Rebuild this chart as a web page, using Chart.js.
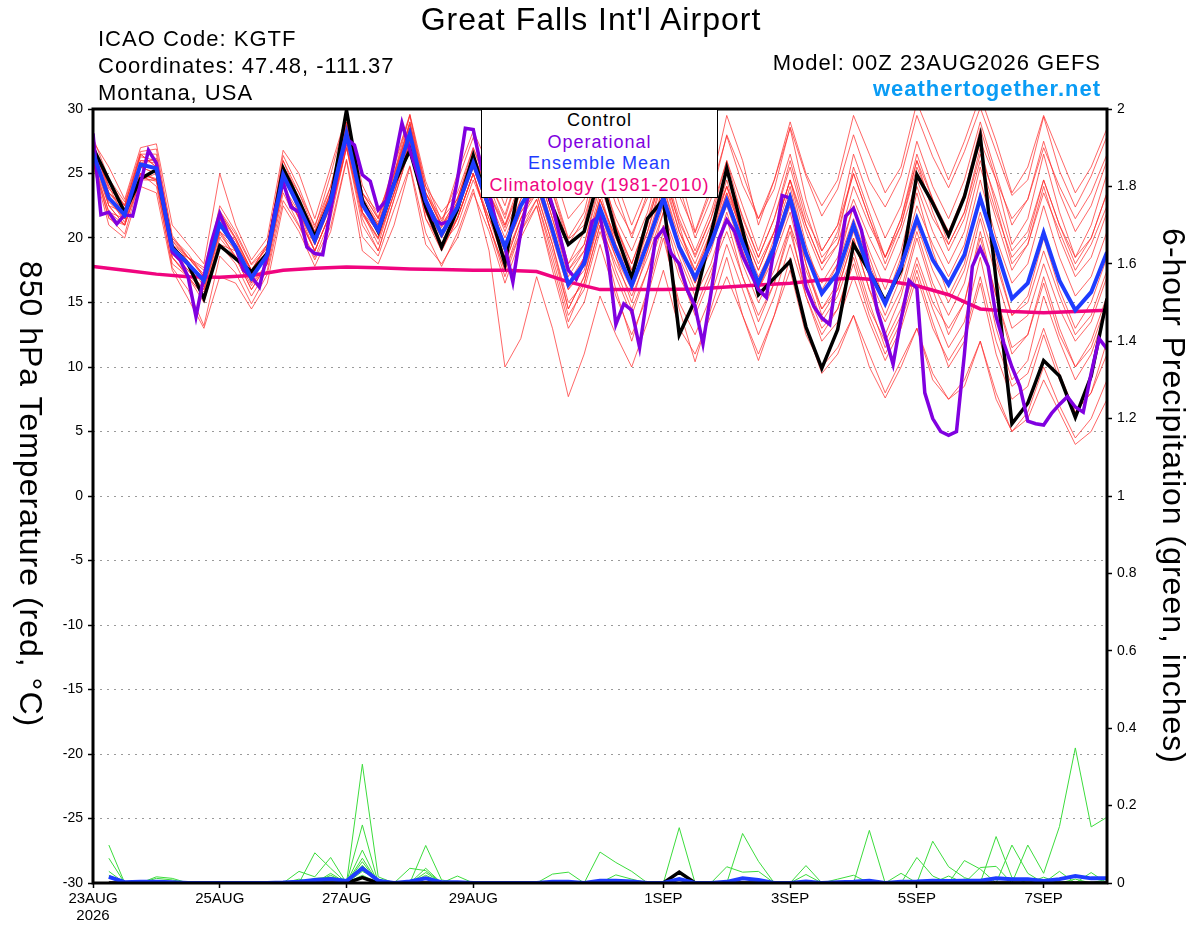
<!DOCTYPE html>
<html>
<head>
<meta charset="utf-8">
<title>Great Falls Int'l Airport</title>
<script src="https://cdn.jsdelivr.net/npm/chart.js@4.4.1/dist/chart.umd.min.js"></script>
<style>
html,body{margin:0;padding:0;background:#fff;}
#wrap{position:relative;width:1200px;height:927px;overflow:hidden;font-family:"Liberation Sans",Arial,Helvetica,sans-serif;}
#c{position:absolute;left:0;top:0;}
.txt{position:absolute;white-space:nowrap;line-height:1;letter-spacing:1px;color:#000;}
#title{left:0;width:1182px;text-align:center;top:3px;font-size:32px;}
.hdr{font-size:22px;}
#icao{left:98px;top:28px;}
#coord{left:98px;top:55px;}
#region{left:98px;top:82px;}
#model{right:99px;top:52px;}
#site{right:99px;top:78px;font-weight:bold;color:#0a9cf5;}
.vt{position:absolute;writing-mode:vertical-rl;font-size:32px;line-height:40px;letter-spacing:1px;white-space:nowrap;transform:translateY(-50%);color:#000;}
#ylabL{left:11px;top:494px;}
#ylabR{left:1154px;top:496px;}
#legend{position:absolute;left:481px;top:109px;width:235px;height:87px;border:1px solid #000;background:#fff;text-align:center;font-size:18px;line-height:21.7px;letter-spacing:1px;}
</style>
</head>
<body>
<div id="wrap">
<canvas id="c" width="1200" height="927"></canvas>
<div class="txt" id="title">Great Falls Int'l Airport</div>
<div class="txt hdr" id="icao">ICAO Code: KGTF</div>
<div class="txt hdr" id="coord">Coordinates: 47.48, -111.37</div>
<div class="txt hdr" id="region">Montana, USA</div>
<div class="txt hdr" id="model">Model: 00Z 23AUG2026 GEFS</div>
<div class="txt hdr" id="site">weathertogether.net</div>
<div class="vt" id="ylabL">850 hPa Temperature (red, °C)</div>
<div class="vt" id="ylabR">6-hour Precipitation (green, inches)</div>
<div id="legend">
<div style="color:#000">Control</div>
<div style="color:#8000e0">Operational</div>
<div style="color:#1e3cff">Ensemble Mean</div>
<div style="color:#f0047f">Climatology (1981-2010)</div>
</div>
</div>
<script>
// ---------- tick labels ----------
const xTickHours = [0, 48, 96, 144, 216, 264, 312, 360];
const xTickLabels = ['23AUG', '25AUG', '27AUG', '29AUG', '1SEP', '3SEP', '5SEP', '7SEP'];
const yearLabel = '2026';

// ---------- 850 hPa temperature (°C), 6-hourly 0..384 h ----------
const ensembleMean = [26.6,23.1,21.8,25.7,25.4,19.2,18.0,16.7,21.1,19.3, 16.9,18.7,24.9,22.4,19.8,22.9,28.1,22.6,20.6,24.2, 28.1,22.9,20.3,22.4,25.8,22.4,19.3,22.5,24.5,20.6, 16.4,18.0,22.3,19.1,16.3,19.6,23.1,19.3,16.9,19.6, 22.9,19.6,16.5,19.3,23.1,18.8,15.7,17.3,21.0,17.4, 14.9,17.8,21.5,18.3,16.4,18.7,23.1,19.2,15.3,16.5, 20.4,16.7,14.4,15.8,18.9];
const control = [27.0,24.5,22.0,24.6,25.3,19.3,18.0,15.3,19.4,18.4, 17.4,18.8,25.4,22.9,20.1,22.9,29.9,22.9,20.5,24.2, 26.8,22.4,19.3,22.2,26.4,22.3,18.0,25.0,26.0,22.4, 19.5,20.5,25.0,20.4,16.9,21.5,23.0,12.5,15.2,20.3, 25.4,20.6,15.6,16.9,18.2,13.1,9.9,12.9,19.5,17.4, 15.1,17.5,24.9,22.7,20.2,23.2,27.9,16.7,5.6,7.2, 10.5,9.3,6.1,9.3,15.3];
// operational run, 3-hourly 0..384 h
const operational = [28.1,21.8,22.0,21.1,21.8,21.7,24.2,26.8,25.8,22.4, 18.9,18.3,17.0,13.9,17.0,19.8,21.9,20.4,19.3,17.5, 17.0,16.2,18.7,22.2,24.3,22.4,22.0,19.3,18.8,18.7, 22.2,25.5,27.7,27.2,24.9,24.4,22.2,22.9,25.8,28.9, 26.8,24.9,22.9,21.4,21.1,21.3,24.5,28.5,28.4,25.5, 23.5,20.9,19.3,16.6,20.5,23.5,25.0,24.5,22.5,20.0, 17.5,16.8,18.2,21.3,21.7,18.6,13.3,14.9,14.4,11.5, 15.7,19.9,20.7,18.8,18.0,16.0,14.7,11.8,15.7,19.9, 21.4,20.5,18.6,17.3,16.0,15.4,19.3,23.3,23.1,20.1, 16.2,14.7,13.8,13.3,17.5,21.7,22.3,20.6,17.5,14.4, 12.4,10.2,13.7,16.7,16.1,8.0,6.0,5.0,4.7,5.0, 11.0,17.8,19.2,17.8,13.9,11.8,10.0,8.5,5.8,5.6, 5.5,6.4,7.1,7.7,6.9,6.5,9.5,12.2,11.4];
// climatology, 12-hourly 0..384 h
const climatology = [17.8,17.5,17.2,17.0,16.95,17.1,17.5,17.65,17.75,17.7, 17.6,17.55,17.5,17.5,17.4,16.6,16.0,16.0,16.0,16.05, 16.2,16.35,16.5,16.75,16.9,16.7,16.3,15.6,14.5,14.3, 14.2,14.3,14.4];

// ensemble members (6-hourly)
const member01 = [27.8,24.6,22.8,26.7,26.9,20.2,18.5,17.7,22.1,20.3,17.9,19.2,26.4,23.9,20.8,24.9,29.6,24.1,21.6,25.7,29.6,24.4,21.3,24.4,27.8, 24.4,21.8,25.5,28.0,23.6,19.9,21.0,26.3,22.6,20.3,23.1,27.6,23.3,20.4,23.6,27.9,24.1,21.5,23.8,28.6, 24.8,21.7,23.8,28.0,24.4,22.4,24.8,29.5,26.3,23.9,26.7,30.1,26.7,23.3,24.5,29.4,25.2,22.4,24.8,27.9];
const member02 = [25.8,21.6,20.3,24.7,24.4,17.7,16.0,13.2,18.6,17.3,14.9,17.2,22.9,20.9,18.3,20.9,26.1,20.1,18.6,22.2,25.6,20.4,17.8,20.4,23.8, 19.0,10.0,12.2,17.0,13.0,7.7,11.0,15.5,12.5,10.0,13.5,17.5,13.0,11.0,14.0,17.0,14.0,11.0,14.0,17.5, 12.5,10.0,11.5,14.0,11.0,8.0,10.5,13.0,9.5,7.5,9.0,12.0,8.0,5.0,6.0,9.0,6.5,4.0,5.0,7.5];
const member03 = [27.2,23.8,22.6,26.3,26.0,19.8,18.5,17.2,21.8,19.9,17.5,19.3,25.6,23.0,20.4,23.6,28.8,23.2,21.2,24.9,28.8,23.5,20.9,23.1,26.5, 23.4,20.8,24.0,26.0,22.1,18.0,19.5,24.0,20.8,18.0,21.3,25.0,21.2,18.7,21.5,25.0,21.7,18.5,21.5,25.5, 21,18,19.5,23,20,17.5,20.5,24.5,21.5,19.5,22,26.5,23,19,20.5,24.5,21,18.5,20,23.5];
const member04 = [26.0,22.5,21.0,25.0,24.6,18.5,17.2,15.8,20.3,18.6,16.3,18.0,24.0,21.6,19.0,22.0,27.2,21.8,19.9,23.4,27.3,22.0,19.6,21.6,25.0, 21.0,17.5,20.5,23.0,18.5,14.0,16.0,20.5,17.0,14.0,17.5,21.0,17.0,14.5,17.5,20.5,17.0,14.0,16.5,20.5, 16,13,14.5,18.5,14.5,12,14.5,18.5,15,13,15,20,15.5,11.5,12.5,16.5,12.5,10,11.5,15];
const member05 = [27.5,25.5,23.0,27.0,27.3,21.0,19.5,18.0,25.0,21.0,18.3,20.0,26.8,25.0,21.5,25.5,29.5,23.5,21.5,25.5,29.5,24.0,21.0,25.0,28.3, 25.5,22.5,26.5,28.5,25.5,21.5,23.0,27.5,24.5,21.0,24.0,28.5,25.0,20.5,24.0,29.5,26.0,21.0,24.5,28.5, 23,19,21,25,21.5,18,21,26,23,20.5,23.5,28.5,24.5,19.5,21.5,26.5,22,18.5,21,25];
const member06 = [25.6,21.0,20.0,24.0,23.5,17.5,15.3,13.0,17.0,16.5,14.5,16.5,22.5,20.5,17.8,20.5,26.0,19.0,18.0,21.0,25.5,19.5,18.0,20.0,23.5, 20.5,16.5,20.0,22.5,17.5,13.0,15.0,19.5,15.5,12.5,15.5,20.0,15.0,12.5,15.5,19.5,16.0,12.5,15.5,19.5, 15.5,12.0,13.5,17.0,13.5,10.5,13.0,17.0,13.0,10.5,12.5,17.0,12.0,8.5,9.5,13.0,9.5,6.5,8.0,11.0];
const member07 = [26.8,23.5,22.0,25.5,25.0,19.5,18.5,17.5,21.5,19.5,17.5,18.5,25.5,22.0,19.5,23.0,28.5,22.0,20.0,24.0,28.5,22.5,20.0,22.5,26.0, 24.5,21.5,25.5,29.0,23.5,19.5,21.5,26.0,21.0,17.5,21.0,25.5,21.0,17.0,20.5,24.5,20.0,16.5,20.0,24.0, 19,15.5,18,22.5,18.5,15,18.5,23.5,19,15.5,18,23.5,18.5,14,15.5,20,16,13,15,18.5];
const member08 = [26.3,22.8,21.5,26.0,26.0,18.8,17.5,16.0,20.5,19.0,17.0,19.0,25.0,23.0,20.5,23.5,28.0,23.0,21.0,24.5,28.0,23.5,21.0,22.5,25.5, 22.0,18.0,21.5,24.0,20.0,16.0,18.5,23.0,20.0,17.5,20.5,24.5,20.5,18.0,21.0,24.0,21.0,18.0,20.5,24.5, 20.5,17.5,19.5,24.0,21.0,18.5,21.0,25.5,22.5,20.5,23.0,27.5,24.5,21.5,23.0,27.0,24.0,21.5,23.5,26.5];
const member09 = [26.5,22.5,21.0,25.5,25.5,19.0,17.5,16.0,20.5,18.5,16.0,18.0,24.0,21.5,19.0,22.0,27.5,22.0,19.5,23.5,27.5,22.0,19.0,21.5,25.0, 21.0,17.0,20.5,22.5,18.0,13.5,16.5,21.0,16.0,12.0,16.0,20.5,14.5,10.4,14.5,18.5,14.0,10.5,14.0,18.5, 13,9.5,11,14,10,7.6,10,13,9,7.5,8.5,12,7.5,5,6.5,10,7,4.5,6,9];
const member10 = [27.0,24.0,22.5,25.0,24.5,20.0,18.8,17.0,22.0,20.0,17.5,19.5,25.5,23.5,21.0,24.0,29.0,23.5,22.0,25.0,29.0,24.0,22.0,23.5,27.0, 24.0,21.0,24.0,27.5,24.0,20.0,22.0,27.0,23.5,20.0,23.5,28.5,24.0,20.0,23.0,28.0,25.0,21.5,24.5,29.0, 25,22.5,24.5,29.5,26.5,23.5,25.5,30.5,27.5,24.5,27.5,31,27.5,23.5,25.5,29.5,26.5,23.5,25.5,28.5];
const member11 = [26.2,23.0,21.5,25.0,24.0,18.0,17.0,15.5,19.5,19.0,16.5,18.0,24.0,22.0,19.0,22.0,27.0,21.5,19.0,23.0,27.0,21.5,19.5,21.0,24.5, 21.5,19.0,22.0,23.5,19.5,15.0,16.5,21.0,18.0,15.5,18.5,22.0,18.5,15.5,18.0,22.0,18.0,15.0,17.5,21.0, 17.5,14.5,16.0,20.0,16.0,13.5,16.0,20.5,16.5,14.0,16.5,21.5,17.0,13.0,14.0,18.0,14.5,12.0,13.5,17.0];
const member12 = [27.5,23.5,22.5,26.5,26.5,20.0,18.5,17.0,22.5,20.5,18.0,19.5,26.0,23.5,20.5,24.0,28.5,23.0,21.0,24.5,29.0,23.5,21.0,23.0,26.5, 23.5,20.5,23.5,26.0,22.0,17.5,19.0,23.5,19.5,16.5,19.5,23.5,19.0,16.0,19.5,22.5,19.0,16.0,19.0,22.5, 18,14.5,16.5,20.5,17,14,17,21,17.5,15,17.5,22,18,14,15,19,15.5,12.5,14,17.5];
const member13 = [25.8,22.0,21.0,24.5,25.0,19.5,18.0,16.5,21.0,19.5,16.5,19.0,24.5,22.5,19.5,22.5,27.5,22.5,20.5,24.0,27.5,23.0,20.5,22.0,25.5, 22.5,19.5,23.0,25.5,21.5,17.5,19.5,24.5,21.0,18.0,21.5,25.5,21.5,18.5,21.5,26.0,22.5,19.0,22.5,26.5, 22,18.5,20,25.5,22,18.5,21.5,26.5,23,19.5,22,27,22.5,18,19.5,24,20,17,18.5,22];
const member14 = [26.9,22.5,22.0,26.5,25.5,19.0,18.5,17.0,21.0,19.0,17.0,18.5,25.0,22.0,19.5,22.5,28.0,22.0,20.5,24.5,28.5,22.5,20.0,22.5,26.0, 22.5,19.0,22.0,24.0,20.5,16.0,17.5,21.5,18.5,16.0,19.0,22.5,19.5,17.0,19.5,23.5,20.5,17.5,20.5,24.5, 19.5,16,18,21.5,18,15,18,22.5,19.5,17,19.5,24.5,20,16.5,18,22.5,18.5,15.5,17,20.5];
const member15 = [27.3,24.0,21.5,25.5,25.0,19.5,18.0,16.5,20.5,19.5,17.5,19.0,24.5,22.5,20.0,23.0,28.0,22.5,20.5,24.0,28.0,23.0,20.5,22.5,25.5, 22.0,18.5,21.5,23.5,19.5,14.5,17.0,22.0,18.5,15.0,19.0,23.5,19.5,16.5,20.0,23.5,19.5,16.0,19.5,23.5, 18,14,16,20,16,12.5,15.5,20,16,12.5,15,20.5,15.5,11,12.5,17,13,10,12,15.5];
const member16 = [26.4,23.5,22.3,26.0,25.8,19.5,18.0,16.8,21.5,19.0,17.0,18.8,25.2,22.8,20.0,23.5,28.5,23.0,20.8,24.5,28.5,23.2,20.5,22.8,26.3, 23.0,20.0,23.0,25.5,21.5,17.0,19.0,23.0,19.5,17.0,20.0,24.0,20.0,17.5,20.5,24.0,20.5,17.5,20.5,24.5, 21,18,20.5,25,21.5,18.5,21.5,26,22,19,21.5,26,22,18.5,20,24.5,21,18,20,23.5];
const member17 = [26.0,22.0,21.5,25.0,24.5,18.5,17.0,15.0,19.5,18.0,15.5,17.5,23.5,21.0,18.5,21.5,27.0,21.0,19.0,23.0,27.0,21.5,19.0,21.5,25.0, 21.5,18.0,21.5,24.5,20.5,16.5,18.0,22.5,19.0,16.5,19.5,24.0,19.5,16.5,19.0,23.0,19.0,16.0,18.5,22.0, 17,13.5,15.5,19,15,11.5,14,18,14.5,11.5,13.5,18.5,13,9,10.5,15.5,12,9,11,14.5];
const member18 = [27.0,23.2,21.2,25.8,26.2,19.8,18.2,16.2,21.0,19.8,17.2,19.0,25.5,22.8,20.2,23.2,28.8,22.8,21.0,24.8,28.8,23.0,20.8,22.8,26.2, 22.8,19.5,22.5,25.0,21.0,16.5,18.5,23.0,20.0,17.0,20.5,25.0,20.5,17.5,20.0,24.0,20.0,17.0,19.5,23.5, 19,16.5,18.5,22.5,19,16,19,24,20.5,18,20.5,25.5,21.5,17.5,19.5,23.5,20.5,17.5,19.5,22.5];
const member19 = [26.5,24.5,22.5,26.5,25.5,19.0,17.8,17.0,22.0,20.0,17.5,19.5,26.0,23.0,20.0,23.5,29.0,23.5,21.5,25.0,29.5,23.5,21.5,23.0,27.0, 23.5,21.0,24.5,27.0,22.5,18.0,20.5,25.0,21.5,19.0,22.0,26.5,22.0,19.0,22.0,26.0,21.5,18.5,21.5,26.0, 21.5,19,21,26.5,23,20,22.5,27.5,24,21.5,24.5,29,25,21,23,27.5,23.5,20.5,22.5,26];
const member20 = [25.8,21.5,21.0,24.5,24.5,18.5,17.0,15.5,20.0,18.5,16.0,18.0,24.0,21.5,19.0,22.0,27.0,22.0,20.0,23.5,27.5,22.0,19.5,21.5,25.0, 21.0,17.5,21.0,23.0,19.0,14.5,17.0,21.5,17.5,14.5,17.5,22.0,17.5,14.0,17.0,21.5,17.0,13.5,16.5,21.0, 15.5,12.5,14.5,18,14,11,13.5,17.5,13.5,10,12,16.5,11,7.5,8.5,12.5,9,6.5,8,12];
const temperatureMembers = [member01,member02,member03,member04,member05,member06,member07,member08,member09,member10,
  member11,member12,member13,member14,member15,member16,member17,member18,member19,member20];

// ---------- 6-hour precipitation (inches), valid 6..384 h ----------
const precipMean = [.016,.002,.003,.003,.002,0,0,0, 0,0,0,.001,.003,.008,.01,.005, .038,.006,0,.004,.012,.002,.002,0, 0,0,0,0,.003,.003,0,.006, .006,.004,0,0,.01,0,0,.003, .012,.008,0,0,.004,0,.002,.003, .006,0,.003,.004,.006,.005,.006,.006, .012,.01,.01,.005,.01,.018,.012,.012];
const precipControl = [0,0,.003,0,0,0,0,0, 0,0,0,0,0,0,0,0, .014,0,0,0,0,0,0,0, 0,0,0,0,0,0,0,0, 0,0,0,0,.028,0,0,0, 0,0,0,0,0,0,0,0, 0,0,0,0,0,0,0,0, 0,0,0,0,0,0,0,0];
const precip01 = [.098,0,0,0,0,0,0,0, 0,0,0,0,0,0,0,0, .307,.016,0,0,0,0,0,0, 0,0,0,0,0,0,0,.08, .053,.03,0,0,0,0,0,0, 0,0,0,0,0,0,0,0, 0,0,0,0,0,0,0,0, 0,0,.098,.025,.146,.349,.145,.17];
const precip02 = [.064,0,0,0,0,0,0,0, 0,0,0,0,0,0,0,0, .15,0,0,0,.097,.008,0,0, 0,0,0,0,0,0,0,0, 0,0,0,0,.143,0,0,0, 0,0,0,0,0,0,0,0, 0,0,0,0,0,0,0,0, .12,.014,0,0,0,0,0,0];
const precip03 = [.03,0,0,0,0,0,0,0, 0,0,0,0,0,.078,.038,0, .085,0,0,0,0,0,0,0, 0,0,0,0,0,0,0,0, 0,0,0,0,0,0,0,0, .128,.056,0,0,0,0,0,0, 0,0,0,0,0,0,0,0, 0,.098,.025,0,0,0,0,0];
const precip04 = [.02,0,0,0,0,0,0,0, 0,0,0,0,.03,.016,.066,0, .064,0,0,0,.038,0,0,0, 0,0,0,0,0,0,0,0, 0,0,0,0,0,0,0,0, 0,0,0,0,0,0,0,0, .136,0,0,0,0,0,0,0, 0,0,0,0,0,.01,0,0];
const precip05 = [.015,0,0,.016,.012,0,0,0, 0,0,0,0,0,0,.025,0, .055,0,0,.038,.032,0,0,0, 0,0,0,0,0,0,0,0, 0,0,0,0,0,0,0,0, 0,0,0,0,0,0,0,0, 0,0,0,0,.108,.042,.014,0, 0,0,0,0,0,0,0,0];
const precip06 = [0,0,0,.012,.008,0,0,0, 0,0,0,0,0,0,.02,0, .046,0,0,0,.027,0,0,0, 0,0,0,0,0,0,0,0, 0,0,0,0,0,0,0,0, 0,0,0,0,.045,0,0,0, 0,0,0,.066,.018,0,0,0, 0,0,0,0,0,0,0,0];
const precip07 = [0,0,0,0,0,0,0,0, 0,0,0,0,0,.012,.015,.008, .038,0,0,0,0,0,.018,0, 0,0,0,0,0,0,0,0, 0,0,0,0,0,0,0,.042, .028,.03,0,0,0,0,0,0, 0,0,0,0,0,0,0,.04, .043,0,0,0,0,0,.027,0];
const precip08 = [0,0,0,0,0,0,0,0, 0,0,0,0,.01,0,0,0, .03,.01,0,0,0,0,0,0, 0,0,0,0,.023,.028,0,0, .021,.01,0,0,0,0,0,0, 0,0,0,0,.022,0,0,0, 0,0,0,0,0,0,.058,.036, 0,0,0,0,.03,0,0,0];
const precip09 = [0,0,0,0,0,0,0,0, 0,0,0,0,0,.01,0,0, .02,0,0,0,.02,0,0,0, 0,0,0,0,0,0,0,0, 0,0,0,0,0,0,0,0, 0,0,0,0,0,0,.01,.02, 0,0,.025,0,0,.018,0,0, 0,0,0,.015,0,0,0,.01];
const precip10 = [0,0,.005,0,0,0,0,0, 0,0,0,.003,0,0,0,0, .012,0,0,0,0,0,0,0, 0,0,0,0,0,0,0,0, 0,0,0,0,0,0,0,0, 0,0,0,0,0,0,0,0, 0,0,0,0,0,0,.01,0, 0,0,0,0,0,0,0,0];
const precipMembers = [precip01,precip02,precip03,precip04,precip05,precip06,precip07,precip08,precip09,precip10];

// ---------- time axes (forecast hours) ----------
const hours6 = ensembleMean.map((_, i) => i * 6);
const hours3 = operational.map((_, i) => i * 3);
const hours12 = climatology.map((_, i) => i * 12);
const hoursPrecip = precipMean.map((_, i) => (i + 1) * 6);

const pts = (xs, ys) => ys.map((y, i) => ({x: xs[i], y: y}));

const FONT = '"Liberation Sans", Arial, Helvetica, sans-serif';
const RED = 'rgba(255,45,45,0.72)';
const GREEN = 'rgb(60,220,60)';
const PURPLE = '#8000e0';
const BLUE = '#1e3cff';
const PINK = '#f0047f';

const datasets = [];
const lineBase = {pointRadius: 0, pointHoverRadius: 0, tension: 0, fill: false, spanGaps: true};

temperatureMembers.forEach((m, k) => datasets.push(Object.assign({}, lineBase, {
  label: 'member ' + (k + 1), data: pts(hours6, m), yAxisID: 'yT',
  borderColor: RED, borderWidth: 1, order: 20
})));
precipMembers.forEach((m, k) => datasets.push(Object.assign({}, lineBase, {
  label: 'precip member ' + (k + 1), data: pts(hoursPrecip, m), yAxisID: 'yP',
  borderColor: GREEN, borderWidth: 1, order: 19
})));
datasets.push(Object.assign({}, lineBase, {label: 'Climatology (1981-2010)', data: pts(hours12, climatology), yAxisID: 'yT', borderColor: PINK, borderWidth: 3.5, order: 6}));
datasets.push(Object.assign({}, lineBase, {label: 'Control precip', data: pts(hoursPrecip, precipControl), yAxisID: 'yP', borderColor: '#000', borderWidth: 3.5, order: 5}));
datasets.push(Object.assign({}, lineBase, {label: 'Control', data: pts(hours6, control), yAxisID: 'yT', borderColor: '#000', borderWidth: 3.5, order: 4}));
datasets.push(Object.assign({}, lineBase, {label: 'Operational', data: pts(hours3, operational), yAxisID: 'yT', borderColor: PURPLE, borderWidth: 3.5, order: 3}));
datasets.push(Object.assign({}, lineBase, {label: 'Ensemble Mean precip', data: pts(hoursPrecip, precipMean), yAxisID: 'yP', borderColor: BLUE, borderWidth: 4, order: 2}));
datasets.push(Object.assign({}, lineBase, {label: 'Ensemble Mean', data: pts(hours6, ensembleMean), yAxisID: 'yT', borderColor: BLUE, borderWidth: 4, order: 1}));

const framePlugin = {
  id: 'frame',
  afterDatasetsDraw(chart) {
    const {ctx, chartArea: a} = chart;
    ctx.save();
    ctx.strokeStyle = '#000';
    ctx.lineWidth = 3;
    ctx.strokeRect(a.left, a.top, a.right - a.left, a.bottom - a.top);
    ctx.restore();
  }
};

new Chart(document.getElementById('c'), {
  type: 'line',
  data: {datasets: datasets},
  plugins: [framePlugin],
  options: {
    responsive: false,
    devicePixelRatio: 1,
    animation: false,
    events: [],
    layout: {padding: {top: 109, left: 0, right: 0, bottom: 0}},
    plugins: {legend: {display: false}, tooltip: {enabled: false}, title: {display: false}},
    scales: {
      x: {
        type: 'linear', min: 0, max: 384,
        afterBuildTicks: (s) => { s.ticks = xTickHours.map(v => ({value: v})); },
        afterFit: (s) => { s.height = 44; },
        grid: {drawOnChartArea: false, drawTicks: true, tickLength: 5, tickColor: '#000', tickWidth: 1.5},
        border: {display: false},
        ticks: {
          autoSkip: false, maxRotation: 0, minRotation: 0, padding: 3,
          color: '#000', font: {family: FONT, size: 15, lineHeight: 1.1},
          callback: (v) => {
            const k = xTickHours.indexOf(v);
            if (k < 0) return '';
            return k === 0 ? [xTickLabels[0], yearLabel] : xTickLabels[k];
          }
        }
      },
      yT: {
        type: 'linear', position: 'left', min: -30, max: 30,
        afterFit: (s) => { s.width = 93; },
        grid: {color: '#9a9a9a', lineWidth: 1, drawTicks: true, tickLength: 5, tickColor: '#000', tickWidth: 1.5},
        border: {display: false, dash: [2, 5]},
        ticks: {stepSize: 5, padding: 5, color: '#000', font: {family: FONT, size: 14}}
      },
      yP: {
        type: 'linear', position: 'right', min: 0, max: 2,
        afterFit: (s) => { s.width = 93; },
        grid: {drawOnChartArea: false, drawTicks: true, tickLength: 5, tickColor: '#000', tickWidth: 1.5},
        border: {display: false},
        ticks: {
          stepSize: 0.2, padding: 5, color: '#000', font: {family: FONT, size: 14},
          callback: (v) => String(Math.round(v * 10) / 10)
        }
      }
    }
  }
});
</script>
</body>
</html>
